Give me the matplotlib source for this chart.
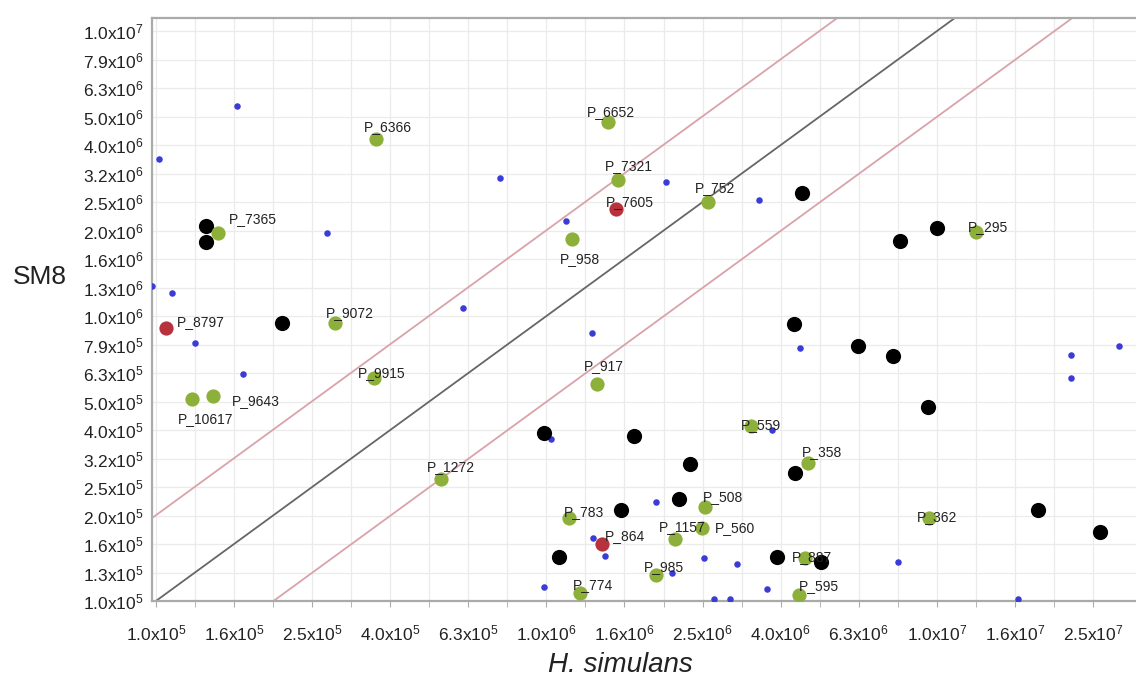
import numpy as np
import matplotlib
matplotlib.use("Agg")
import matplotlib.pyplot as plt

plt.rcParams['font.family'] = ['Liberation Sans', 'DejaVu Sans']
plt.rcParams['mathtext.default'] = 'regular'

# small blue background points (H. simulans, SM8)
blue_x = [1.61e5, 1.02e5, 9.8e4, 1.10e5, 2.74e5, 1.26e5, 1.67e5, 6.12e5, 7.6e5, 1.12e6,
          2.02e6, 3.51e6, 1.31e6, 1.03e6, 1.91e6, 1.32e6, 1.41e6, 9.86e5, 2.10e6, 2.54e6,
          3.07e6, 2.68e6, 2.96e6, 3.68e6, 3.79e6, 4.47e6, 7.94e6, 1.61e7, 2.2e7, 2.21e7, 2.93e7]
blue_y = [5.45e6, 3.55e6, 1.27e6, 1.20e6, 1.95e6, 8.04e5, 6.25e5, 1.07e6, 3.05e6, 2.15e6,
          2.95e6, 2.55e6, 8.71e5, 3.70e5, 2.22e5, 1.67e5, 1.44e5, 1.12e5, 1.25e5, 1.42e5,
          1.35e5, 1.02e5, 1.02e5, 1.10e5, 3.98e5, 7.73e5, 1.37e5, 1.02e5, 7.29e5, 6.05e5, 7.85e5]

# black points
black_x = [1.34e5, 1.34e5, 2.1e5, 9.86e5, 1.68e6, 2.33e6, 2.18e6, 1.55e6, 1.08e6, 3.9e6,
           5.06e6, 4.34e6, 4.31e6, 6.28e6, 7.72e6, 9.48e6, 1.82e7, 2.61e7, 4.52e6, 8.05e6, 1.0e7]
black_y = [2.07e6, 1.82e6, 9.44e5, 3.88e5, 3.79e5, 3.03e5, 2.28e5, 2.09e5, 1.43e5, 1.43e5,
           1.37e5, 2.81e5, 9.38e5, 7.85e5, 7.24e5, 4.79e5, 2.09e5, 1.75e5, 2.71e6, 1.83e6, 2.04e6]

# labelled green points
green_names = ["P_7365", "P_6366", "P_6652", "P_7321", "P_752", "P_958", "P_295", "P_9072",
               "P_10617", "P_9643", "P_9915", "P_917", "P_1272", "P_783", "P_1157", "P_508",
               "P_560", "P_985", "P_774", "P_559", "P_358", "P_362", "P_887", "P_595"]
green_x = [1.44e5, 3.67e5, 1.44e6, 1.53e6, 2.59e6, 1.16e6, 1.26e7, 2.88e5,
           1.24e5, 1.40e5, 3.62e5, 1.35e6, 5.38e5, 1.14e6, 2.14e6, 2.55e6,
           2.51e6, 1.91e6, 1.22e6, 3.35e6, 4.69e6, 9.55e6, 4.6e6, 4.44e6]
green_y = [1.95e6, 4.18e6, 4.79e6, 3.0e6, 2.51e6, 1.86e6, 1.97e6, 9.44e5,
           5.11e5, 5.24e5, 6.05e5, 5.76e5, 2.68e5, 1.95e5, 1.65e5, 2.14e5,
           1.81e5, 1.23e5, 1.07e5, 4.11e5, 3.05e5, 1.95e5, 1.42e5, 1.05e5]

# labelled red points
red_names = ["P_7605", "P_8797", "P_864"]
red_x = [1.51e6, 1.06e5, 1.39e6]
red_y = [2.38e6, 9.09e5, 1.58e5]

# label offsets in pixels (dx, dy)
green_off = [(35, 14), (11, 12), (3, 10), (10, 14), (7, 14), (8, -20), (12, 5), (15, 10),
             (13, -20), (43, -5), (8, 5), (7, 18), (10, 12), (15, 6), (7, 12), (18, 10),
             (33, 0), (8, 8), (13, 8), (10, 1), (14, 11), (8, 1), (7, 1), (20, 9)]
red_off = [(14, 7), (35, 6), (23, 8)]

x_tick_labels = ["1.0x10$^5$", "1.6x10$^5$", "2.5x10$^5$", "4.0x10$^5$", "6.3x10$^5$",
                 "1.0x10$^6$", "1.6x10$^6$", "2.5x10$^6$", "4.0x10$^6$", "6.3x10$^6$",
                 "1.0x10$^7$", "1.6x10$^7$", "2.5x10$^7$"]
y_tick_labels = ["1.0x10$^5$", "1.3x10$^5$", "1.6x10$^5$", "2.0x10$^5$", "2.5x10$^5$",
                 "3.2x10$^5$", "4.0x10$^5$", "5.0x10$^5$", "6.3x10$^5$", "7.9x10$^5$",
                 "1.0x10$^6$", "1.3x10$^6$", "1.6x10$^6$", "2.0x10$^6$", "2.5x10$^6$",
                 "3.2x10$^6$", "4.0x10$^6$", "5.0x10$^6$", "6.3x10$^6$", "7.9x10$^6$",
                 "1.0x10$^7$"]

fig = plt.figure(figsize=(11.36, 6.78), dpi=100)
ax = fig.add_axes([152 / 1136, 77 / 678, 984 / 1136, 583 / 678])
ax.set_xscale('log')
ax.set_yscale('log')
xmin, xmax = 10 ** 4.99, 10 ** 7.51
ymin, ymax = 1e5, 10 ** 7.046
ax.set_xlim(xmin, xmax)
ax.set_ylim(ymin, ymax)

# ticks and grid every 0.1 decade
xt = 10 ** (5 + 0.2 * np.arange(len(x_tick_labels)))
ax.set_xticks(xt)
ax.set_xticklabels(x_tick_labels)
ax.set_xticks(10 ** (5.1 + 0.2 * np.arange(12)), minor=True)
ax.xaxis.set_minor_formatter(matplotlib.ticker.NullFormatter())
yt = 10 ** (5 + 0.1 * np.arange(len(y_tick_labels)))
ax.set_yticks(yt)
ax.set_yticklabels(y_tick_labels)
ax.yaxis.set_minor_locator(matplotlib.ticker.NullLocator())
ax.grid(True, which='both', color='#ebebeb', lw=0.9)
ax.set_axisbelow(True)
ax.tick_params(axis='x', which='both', length=4, color='#aaaaaa', pad=12, labelsize=12.5,
               labelcolor='#222222')
ax.tick_params(axis='y', which='both', length=0, pad=6, labelsize=12.5, labelcolor='#222222')

for side in ['left', 'top', 'bottom']:
    ax.spines[side].set_color('#aaaaaa')
    ax.spines[side].set_linewidth(1.6)
ax.spines['right'].set_visible(False)

# diagonal reference lines y = x, y = 2x, y = x/2
lx = np.array([xmin, xmax])
ax.plot(lx, lx, color='#666666', lw=1.3, zorder=2)
ax.plot(lx, lx * 2, color='#d8a3aa', lw=1.3, zorder=2)
ax.plot(lx, lx / 2, color='#d8a3aa', lw=1.3, zorder=2)

ax.scatter(blue_x, blue_y, s=22, color='#3b3bd6', zorder=3, linewidths=0)
ax.scatter(black_x, black_y, s=120, color='black', zorder=4, linewidths=0)
ax.scatter(green_x, green_y, s=105, color='#8db03a', zorder=5, linewidths=0)
ax.scatter(red_x, red_y, s=105, color='#b8323e', zorder=5, linewidths=0)

for name, x, y, (dx, dy) in zip(green_names + red_names, green_x + red_x,
                                green_y + red_y, green_off + red_off):
    ax.annotate(name, (x, y), xytext=(dx, dy), textcoords='offset pixels',
                ha='center', va='center', fontsize=10, color='#222222', zorder=6)

fig.text(40 / 1136, 1 - 277 / 678, "SM8", fontsize=19, ha='center', va='center',
         color='#222222')
fig.text(620 / 1136, 1 - 665 / 678, "H. simulans", fontsize=20, style='italic',
         ha='center', va='center', color='#222222')

fig.savefig("out.png", dpi=100)
